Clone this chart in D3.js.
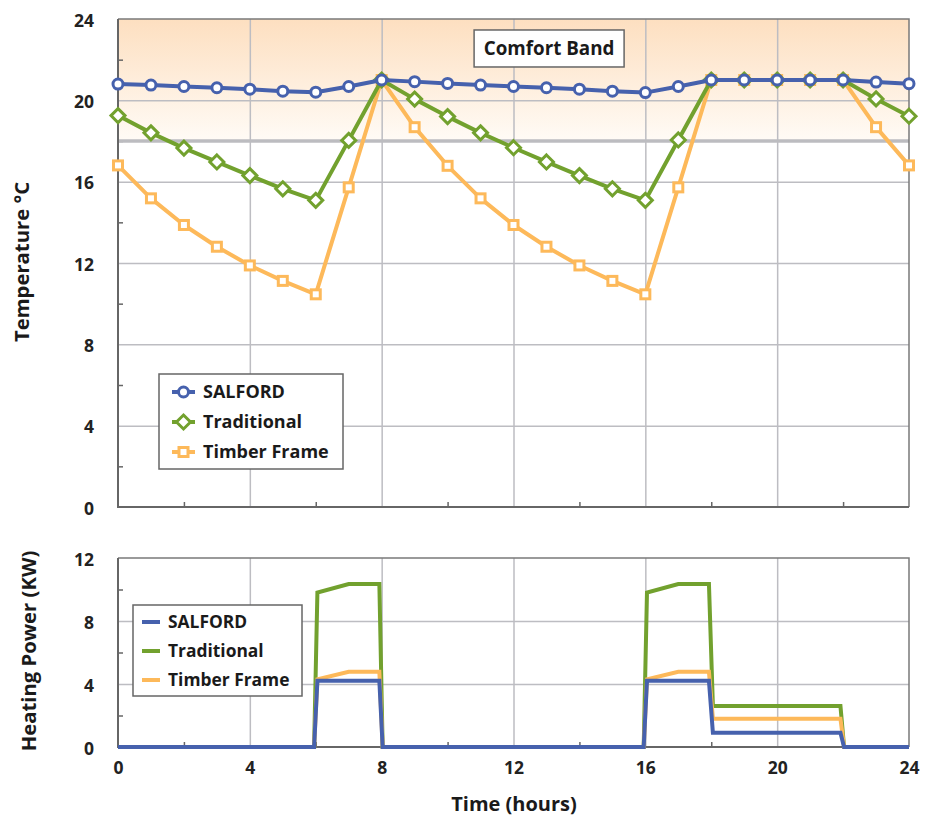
<!DOCTYPE html>
<html>
<head>
<meta charset="utf-8">
<script src="https://cdn.jsdelivr.net/npm/d3@7"></script>
<style>
  body { margin: 0; background: #fff; }
  svg { display: block; font-family: 'Open Sans', 'Noto Sans', sans-serif; font-weight: 700; }
  .grid line { stroke: #bdbdc2; stroke-width: 1.5; }
  .grid path { display: none; }
  .minor line { stroke: #666; stroke-width: 1.5; }
  .minor path { display: none; }
  .labels path, .labels line { display: none; }
  .labels text { font-size: 17.5px; font-weight: 700; fill: #222; font-family: 'Open Sans', sans-serif; }
</style>
</head>
<body>
<div id="chart"></div>
<script>
// hourly temperatures (deg C)
const hours = d3.range(0, 25);
const salfordTemp = [20.8, 20.75, 20.68, 20.62, 20.55, 20.45, 20.4, 20.68, 21.0, 20.92, 20.83,
  20.75, 20.68, 20.62, 20.55, 20.45, 20.38, 20.68, 21.0, 21.0, 21.0, 21.0, 21.0, 20.9, 20.82];
const traditionalTemp = [19.25, 18.4, 17.65, 16.97, 16.3, 15.65, 15.08, 18.03, 21.0, 20.06, 19.2,
  18.4, 17.67, 16.97, 16.3, 15.65, 15.08, 18.05, 21.0, 21.0, 21.0, 21.0, 21.0, 20.07, 19.22];
const timberTemp = [16.8, 15.18, 13.87, 12.8, 11.88, 11.12, 10.46, 15.72, 21.0, 18.68, 16.78,
  15.18, 13.87, 12.8, 11.88, 11.12, 10.46, 15.72, 21.0, 21.0, 21.0, 21.0, 21.0, 18.68, 16.8];

// heating power (kW)
const powerHours = [0, 5.95, 6.05, 7, 7.93, 8.03, 15.95, 16.05, 17, 17.93, 18.05, 21.92, 22.03, 24];
const salfordPower = [0, 0, 4.2, 4.2, 4.2, 0, 0, 4.2, 4.2, 4.2, 0.9, 0.9, 0, 0];
const traditionalPower = [0, 0, 9.8, 10.35, 10.35, 0, 0, 9.8, 10.35, 10.35, 2.6, 2.6, 0, 0];
const timberPower = [0, 0, 4.3, 4.78, 4.78, 0, 0, 4.3, 4.78, 4.78, 1.8, 1.8, 0, 0];

const seriesNames = ['SALFORD', 'Traditional', 'Timber Frame'];
const colors = { 'SALFORD': '#4661ad', 'Traditional': '#72a12e', 'Timber Frame': '#fdb95a' };

const xTicks = [0, 4, 8, 12, 16, 20, 24];
const xMinor = [2, 6, 10, 14, 18, 22];
const tempTicks = [0, 4, 8, 12, 16, 20, 24];
const tempMinor = [2, 6, 10, 14, 18, 22];
const powerTicks = [0, 4, 8, 12];
const powerMinor = [2, 6, 10];
const comfortBand = [18, 24];

const width = 930, height = 819;
const left = 118, right = 909;

const svg = d3.select('#chart').append('svg')
  .attr('width', width)
  .attr('height', height);

const x = d3.scaleLinear().domain([0, 24]).range([left, right]);
const yT = d3.scaleLinear().domain([0, 24]).range([507, 19]);
const yP = d3.scaleLinear().domain([0, 12]).range([747, 558]);

const defs = svg.append('defs');
const grad = defs.append('linearGradient')
  .attr('id', 'comfortGrad')
  .attr('x1', 0).attr('y1', 0).attr('x2', 0).attr('y2', 1);
grad.append('stop').attr('offset', '0%').attr('stop-color', '#fddfc0');
grad.append('stop').attr('offset', '100%').attr('stop-color', '#fffbf6');

function drawFrame(yScale, majors, minors) {
  const [y0, y1] = yScale.range();

  svg.append('g')
    .attr('class', 'grid')
    .attr('transform', `translate(${left},0)`)
    .call(d3.axisLeft(yScale).tickValues(majors.slice(1, -1)).tickSize(-(right - left)).tickFormat(''));

  svg.append('g')
    .attr('class', 'grid')
    .attr('transform', `translate(0,${y0})`)
    .call(d3.axisBottom(x).tickValues(xTicks.slice(1, -1)).tickSize(-(y0 - y1)).tickFormat(''));

  svg.append('g')
    .attr('class', 'minor')
    .attr('transform', `translate(${left},0)`)
    .call(d3.axisRight(yScale).tickValues(minors).tickSize(5).tickFormat(''));

  svg.append('g')
    .attr('class', 'minor')
    .attr('transform', `translate(0,${y0})`)
    .call(d3.axisTop(x).tickValues(xMinor).tickSize(5).tickFormat(''));

  svg.append('g')
    .attr('class', 'labels')
    .attr('transform', `translate(${left - 10},0)`)
    .call(d3.axisLeft(yScale).tickValues(majors).tickSize(0).tickPadding(14))
    .selectAll('text')
    .attr('dy', '0.4em');
}

function drawBorder(yScale) {
  const [y0, y1] = yScale.range();
  svg.append('path')
    .attr('d', `M${right},${y0}V${y1}H${left}`)
    .attr('fill', 'none')
    .attr('stroke', '#7a7a7a')
    .attr('stroke-width', 1.5);
  svg.append('path')
    .attr('d', `M${left},${y1}V${y0}H${right}`)
    .attr('fill', 'none')
    .attr('stroke', '#666')
    .attr('stroke-width', 2);
}

// ---- temperature chart ----
svg.append('rect')
  .attr('x', left)
  .attr('y', yT(comfortBand[1]))
  .attr('width', right - left)
  .attr('height', yT(comfortBand[0]) - yT(comfortBand[1]))
  .attr('fill', 'url(#comfortGrad)');

drawFrame(yT, tempTicks, tempMinor);

svg.append('line')
  .attr('x1', left).attr('x2', right)
  .attr('y1', yT(comfortBand[0])).attr('y2', yT(comfortBand[0]))
  .attr('stroke', '#bcbcc0')
  .attr('stroke-width', 3.5);

drawBorder(yT);

// comfort band label
const cb = svg.append('g').attr('transform', `translate(${x(13.08)},${yT(22.55)})`);
cb.append('rect')
  .attr('x', -75).attr('y', -18.5).attr('width', 150).attr('height', 37)
  .attr('fill', '#fff').attr('stroke', '#666').attr('stroke-width', 1.5);
cb.append('text')
  .attr('text-anchor', 'middle')
  .attr('dy', '0.36em')
  .attr('font-size', 18.8)
  .attr('fill', '#1a1a1a')
  .text('Comfort Band');

const markerShapes = {
  'SALFORD': g => g.append('circle').attr('r', 5),
  'Traditional': g => g.append('path').attr('d', 'M0,-7L7,0L0,7L-7,0Z'),
  'Timber Frame': g => g.append('rect').attr('x', -4.5).attr('y', -4.5).attr('width', 9).attr('height', 9),
};

const tempSeries = [
  { name: 'Timber Frame', values: timberTemp },
  { name: 'Traditional', values: traditionalTemp },
  { name: 'SALFORD', values: salfordTemp },
];

const tempLine = d3.line().x((d, i) => x(hours[i])).y(d => yT(d));

tempSeries.forEach(s => {
  svg.append('path')
    .datum(s.values)
    .attr('d', tempLine)
    .attr('fill', 'none')
    .attr('stroke', colors[s.name])
    .attr('stroke-width', 4)
    .attr('stroke-linejoin', 'round');

  s.values.forEach((v, i) => {
    const g = svg.append('g')
      .attr('transform', `translate(${x(hours[i])},${yT(v)})`)
      .attr('fill', '#fff')
      .attr('stroke', colors[s.name])
      .attr('stroke-width', 3);
    markerShapes[s.name](g);
  });
});

// temperature legend
const leg1 = svg.append('g').attr('transform', 'translate(159,374)');
leg1.append('rect')
  .attr('width', 184).attr('height', 95)
  .attr('fill', '#fff').attr('stroke', '#666').attr('stroke-width', 1.5);
seriesNames.forEach((name, i) => {
  const row = leg1.append('g').attr('transform', `translate(0,${18 + i * 30})`);
  row.append('line')
    .attr('x1', 13).attr('x2', 36)
    .attr('stroke', colors[name]).attr('stroke-width', 4);
  const g = row.append('g')
    .attr('transform', 'translate(24.5,0)')
    .attr('fill', '#fff').attr('stroke', colors[name]).attr('stroke-width', 3);
  markerShapes[name](g);
  row.append('text')
    .attr('x', 44).attr('dy', '0.36em')
    .attr('font-size', 18).attr('fill', '#1a1a1a')
    .text(name);
});

svg.append('text')
  .attr('transform', `translate(29,262) rotate(-90)`)
  .attr('text-anchor', 'middle')
  .attr('font-size', 20.3)
  .attr('fill', '#1a1a1a')
  .text('Temperature °C');

// ---- heating power chart ----
drawFrame(yP, powerTicks, powerMinor);
drawBorder(yP);

const powerSeries = [
  { name: 'Traditional', values: traditionalPower },
  { name: 'Timber Frame', values: timberPower },
  { name: 'SALFORD', values: salfordPower },
];

const powerLine = d3.line().x((d, i) => x(powerHours[i])).y(d => yP(d));

powerSeries.forEach(s => {
  svg.append('path')
    .datum(s.values)
    .attr('d', powerLine)
    .attr('fill', 'none')
    .attr('stroke', colors[s.name])
    .attr('stroke-width', 4);
});

const leg2 = svg.append('g').attr('transform', 'translate(133,605)');
leg2.append('rect')
  .attr('width', 169).attr('height', 91)
  .attr('fill', '#fff').attr('stroke', '#666').attr('stroke-width', 1.5);
seriesNames.forEach((name, i) => {
  const row = leg2.append('g').attr('transform', `translate(0,${17 + i * 29})`);
  row.append('line')
    .attr('x1', 9).attr('x2', 27)
    .attr('stroke', colors[name]).attr('stroke-width', 4);
  row.append('text')
    .attr('x', 35).attr('dy', '0.36em')
    .attr('font-size', 17.4).attr('fill', '#1a1a1a')
    .text(name);
});

svg.append('text')
  .attr('transform', `translate(36,651) rotate(-90)`)
  .attr('text-anchor', 'middle')
  .attr('font-size', 20.3)
  .attr('fill', '#1a1a1a')
  .text('Heating Power (KW)');

// shared x axis labels
svg.append('g')
  .attr('class', 'labels')
  .attr('transform', `translate(0,${yP(0) + 12})`)
  .call(d3.axisBottom(x).tickValues(xTicks).tickSize(0).tickPadding(3));

svg.append('text')
  .attr('x', 514).attr('y', 811)
  .attr('text-anchor', 'middle')
  .attr('font-size', 20)
  .attr('fill', '#1a1a1a')
  .text('Time (hours)');
</script>
</body>
</html>
